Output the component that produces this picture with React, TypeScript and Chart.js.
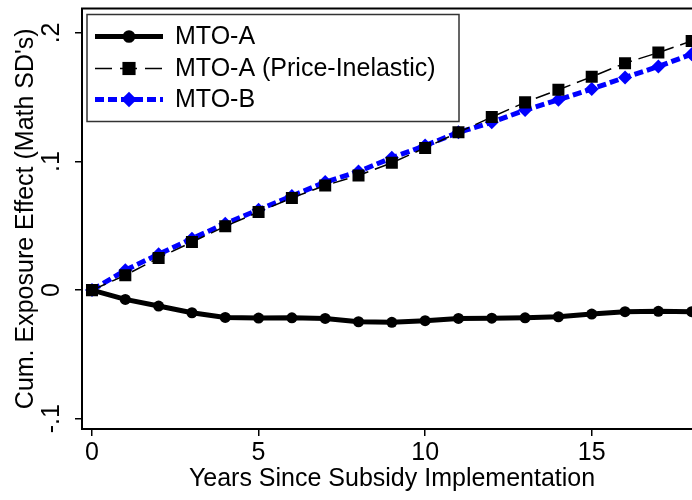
import React, { useEffect, useRef } from 'react';
import { Chart, registerables } from 'chart.js';

Chart.register(...registerables);

// ---------- data ----------
const YEARS = [0, 1, 2, 3, 4, 5, 6, 7, 8, 9, 10, 11, 12, 13, 14, 15, 16, 17, 18];
const MTO_A = [0, -0.0072, -0.0124, -0.0176, -0.0212, -0.0217, -0.0215, -0.022, -0.0246, -0.025, -0.0238, -0.022, -0.0218, -0.0215, -0.0207, -0.0186, -0.0168, -0.0165, -0.0168];
const MTO_A_PI = [0, 0.0116, 0.025, 0.0374, 0.0496, 0.0607, 0.0717, 0.0814, 0.0891, 0.099, 0.1106, 0.1227, 0.1346, 0.146, 0.1558, 0.1659, 0.1765, 0.1847, 0.1938];
const MTO_B = [0, 0.0155, 0.0279, 0.04, 0.0517, 0.0625, 0.0732, 0.084, 0.0922, 0.1029, 0.1124, 0.1227, 0.1305, 0.14, 0.148, 0.1564, 0.1654, 0.1739, 0.1835];
const SERIES_LABELS = ['MTO-A', 'MTO-A (Price-Inelastic)', 'MTO-B'];
const X_TICKS = [0, 5, 10, 15];
const Y_TICKS = [-0.1, 0, 0.1, 0.2];
const X_TITLE = 'Years Since Subsidy Implementation';
const Y_TITLE = "Cum. Exposure Effect (Math SD's)";

const FONT = "'Liberation Sans', Arial, Helvetica, sans-serif";

const toPts = (ys: number[]) => YEARS.map((x, i) => ({ x, y: ys[i] }));

const fmtY = (v: number) => {
  const r = Math.round(v * 10) / 10;
  if (r === 0) return '0';
  return r.toString().replace('0.', '.');
};

const legendPlugin = {
  id: 'stataLegend',
  afterDraw(chart: any) {
    const { ctx, chartArea } = chart;
    ctx.save();
    const bx = chartArea.left + 5;
    const by = chartArea.top + 6;
    const bw = 372;
    const bh = 107;
    ctx.fillStyle = '#fff';
    ctx.fillRect(bx, by, bw, bh);
    ctx.strokeStyle = '#333';
    ctx.lineWidth = 1.5;
    ctx.strokeRect(bx, by, bw, bh);
    const rows = [by + 22, by + 54, by + 85];
    const sx0 = bx + 8;
    const sx1 = bx + 76;
    const mx = (sx0 + sx1) / 2;
    chart.data.datasets.forEach((ds: any, i: number) => {
      const y = rows[i];
      ctx.save();
      ctx.strokeStyle = ds.borderColor;
      ctx.lineWidth = ds.borderWidth;
      ctx.setLineDash(ds.legendDash || ds.borderDash || []);
      ctx.beginPath();
      ctx.moveTo(sx0, y);
      ctx.lineTo(sx1, y);
      ctx.stroke();
      ctx.setLineDash([]);
      ctx.fillStyle = ds.pointBackgroundColor;
      const r = ds.pointRadius + 0.8;
      ctx.beginPath();
      if (ds.pointStyle === 'circle') {
        ctx.arc(mx, y, r, 0, Math.PI * 2);
      } else if (ds.pointStyle === 'rect') {
        const s = r * Math.SQRT1_2;
        ctx.rect(mx - s, y - s, 2 * s, 2 * s);
      } else {
        ctx.moveTo(mx, y - r);
        ctx.lineTo(mx + r, y);
        ctx.lineTo(mx, y + r);
        ctx.lineTo(mx - r, y);
        ctx.closePath();
      }
      ctx.fill();
      ctx.restore();
      ctx.fillStyle = '#000';
      ctx.font = `25px ${FONT}`;
      ctx.textBaseline = 'middle';
      ctx.textAlign = 'left';
      ctx.fillText(ds.label, bx + 88, y + 1);
    });
    ctx.restore();
  },
};

const framePlugin = {
  id: 'frame',
  afterDraw(chart: any) {
    const { ctx, chartArea } = chart;
    ctx.save();
    ctx.strokeStyle = '#000';
    ctx.lineWidth = 2;
    ctx.strokeRect(chartArea.left, chartArea.top, chartArea.right - chartArea.left, chartArea.bottom - chartArea.top);
    ctx.restore();
  },
};

export default function App() {
  const ref = useRef<HTMLCanvasElement | null>(null);

  useEffect(() => {
    if (!ref.current) return;
    const chart = new Chart(ref.current, {
      type: 'line',
      data: {
        datasets: [
          {
            label: SERIES_LABELS[0],
            data: toPts(MTO_A),
            borderColor: '#000',
            borderWidth: 5,
            pointStyle: 'circle',
            pointRadius: 5.5,
            pointBackgroundColor: '#000',
            pointBorderWidth: 0,
            tension: 0,
          },
          {
            label: SERIES_LABELS[1],
            data: toPts(MTO_A_PI),
            borderColor: '#000',
            borderWidth: 1.5,
            borderDash: [15, 7],
            legendDash: [17, 8],
            pointStyle: 'rect',
            pointRadius: 8.5,
            pointBackgroundColor: '#000',
            pointBorderWidth: 0,
            tension: 0,
          } as any,
          {
            label: SERIES_LABELS[2],
            data: toPts(MTO_B),
            borderColor: '#0000ff',
            borderWidth: 5,
            borderDash: [9, 4],
            pointStyle: 'rectRot',
            pointRadius: 7,
            pointBackgroundColor: '#0000ff',
            pointBorderWidth: 0,
            tension: 0,
          },
        ],
      },
      options: {
        animation: false,
        responsive: false,
        devicePixelRatio: 1,
        layout: { padding: { left: 0, top: 7, right: 18, bottom: 0 } },
        plugins: { legend: { display: false }, tooltip: { enabled: false } },
        scales: {
          x: {
            type: 'linear',
            min: -0.3,
            max: 18.31,
            afterBuildTicks: (s: any) => { s.ticks = X_TICKS.map((v) => ({ value: v })); },
            afterFit: (s: any) => { s.height = 71; s.paddingLeft = 0; s.paddingRight = 0; },
            ticks: {
              color: '#000',
              font: { family: FONT, size: 25 },
              padding: 2,
              maxRotation: 0,
              minRotation: 0,
              autoSkip: false,
              callback: (v: any) => String(v),
            },
            grid: { drawOnChartArea: false, drawTicks: true, tickLength: 7, color: '#000', lineWidth: 1.5 },
            border: { display: true, color: '#000', width: 2 },
            title: { display: true, text: X_TITLE, color: '#000', font: { family: FONT, size: 25 }, padding: { top: 0, bottom: 6 } },
          },
          y: {
            type: 'linear',
            min: -0.108,
            max: 0.219,
            afterBuildTicks: (s: any) => { s.ticks = Y_TICKS.map((v) => ({ value: v })); },
            afterFit: (s: any) => { s.width = 82; s.paddingTop = 0; s.paddingBottom = 0; },
            ticks: {
              color: '#000',
              font: { family: FONT, size: 25 },
              padding: 8,
              minRotation: 90,
              maxRotation: 90,
              crossAlign: 'center',
              autoSkip: false,
              callback: (v: any) => fmtY(Number(v)),
            },
            grid: { drawOnChartArea: false, drawTicks: true, tickLength: 7, color: '#000', lineWidth: 1.5 },
            border: { display: true, color: '#000', width: 2 },
            title: { display: true, text: Y_TITLE, color: '#000', font: { family: FONT, size: 25 }, padding: { top: 11, bottom: 0 } },
          },
        },
      } as any,
      plugins: [framePlugin, legendPlugin],
    });
    return () => chart.destroy();
  }, []);

  return (
    <div style={{ position: 'fixed', left: 0, top: 0, width: 692, height: 500, overflow: 'hidden', background: '#fff' }}>
      <canvas ref={ref} width={720} height={500} style={{ display: 'block', width: 720, height: 500 }} />
    </div>
  );
}
